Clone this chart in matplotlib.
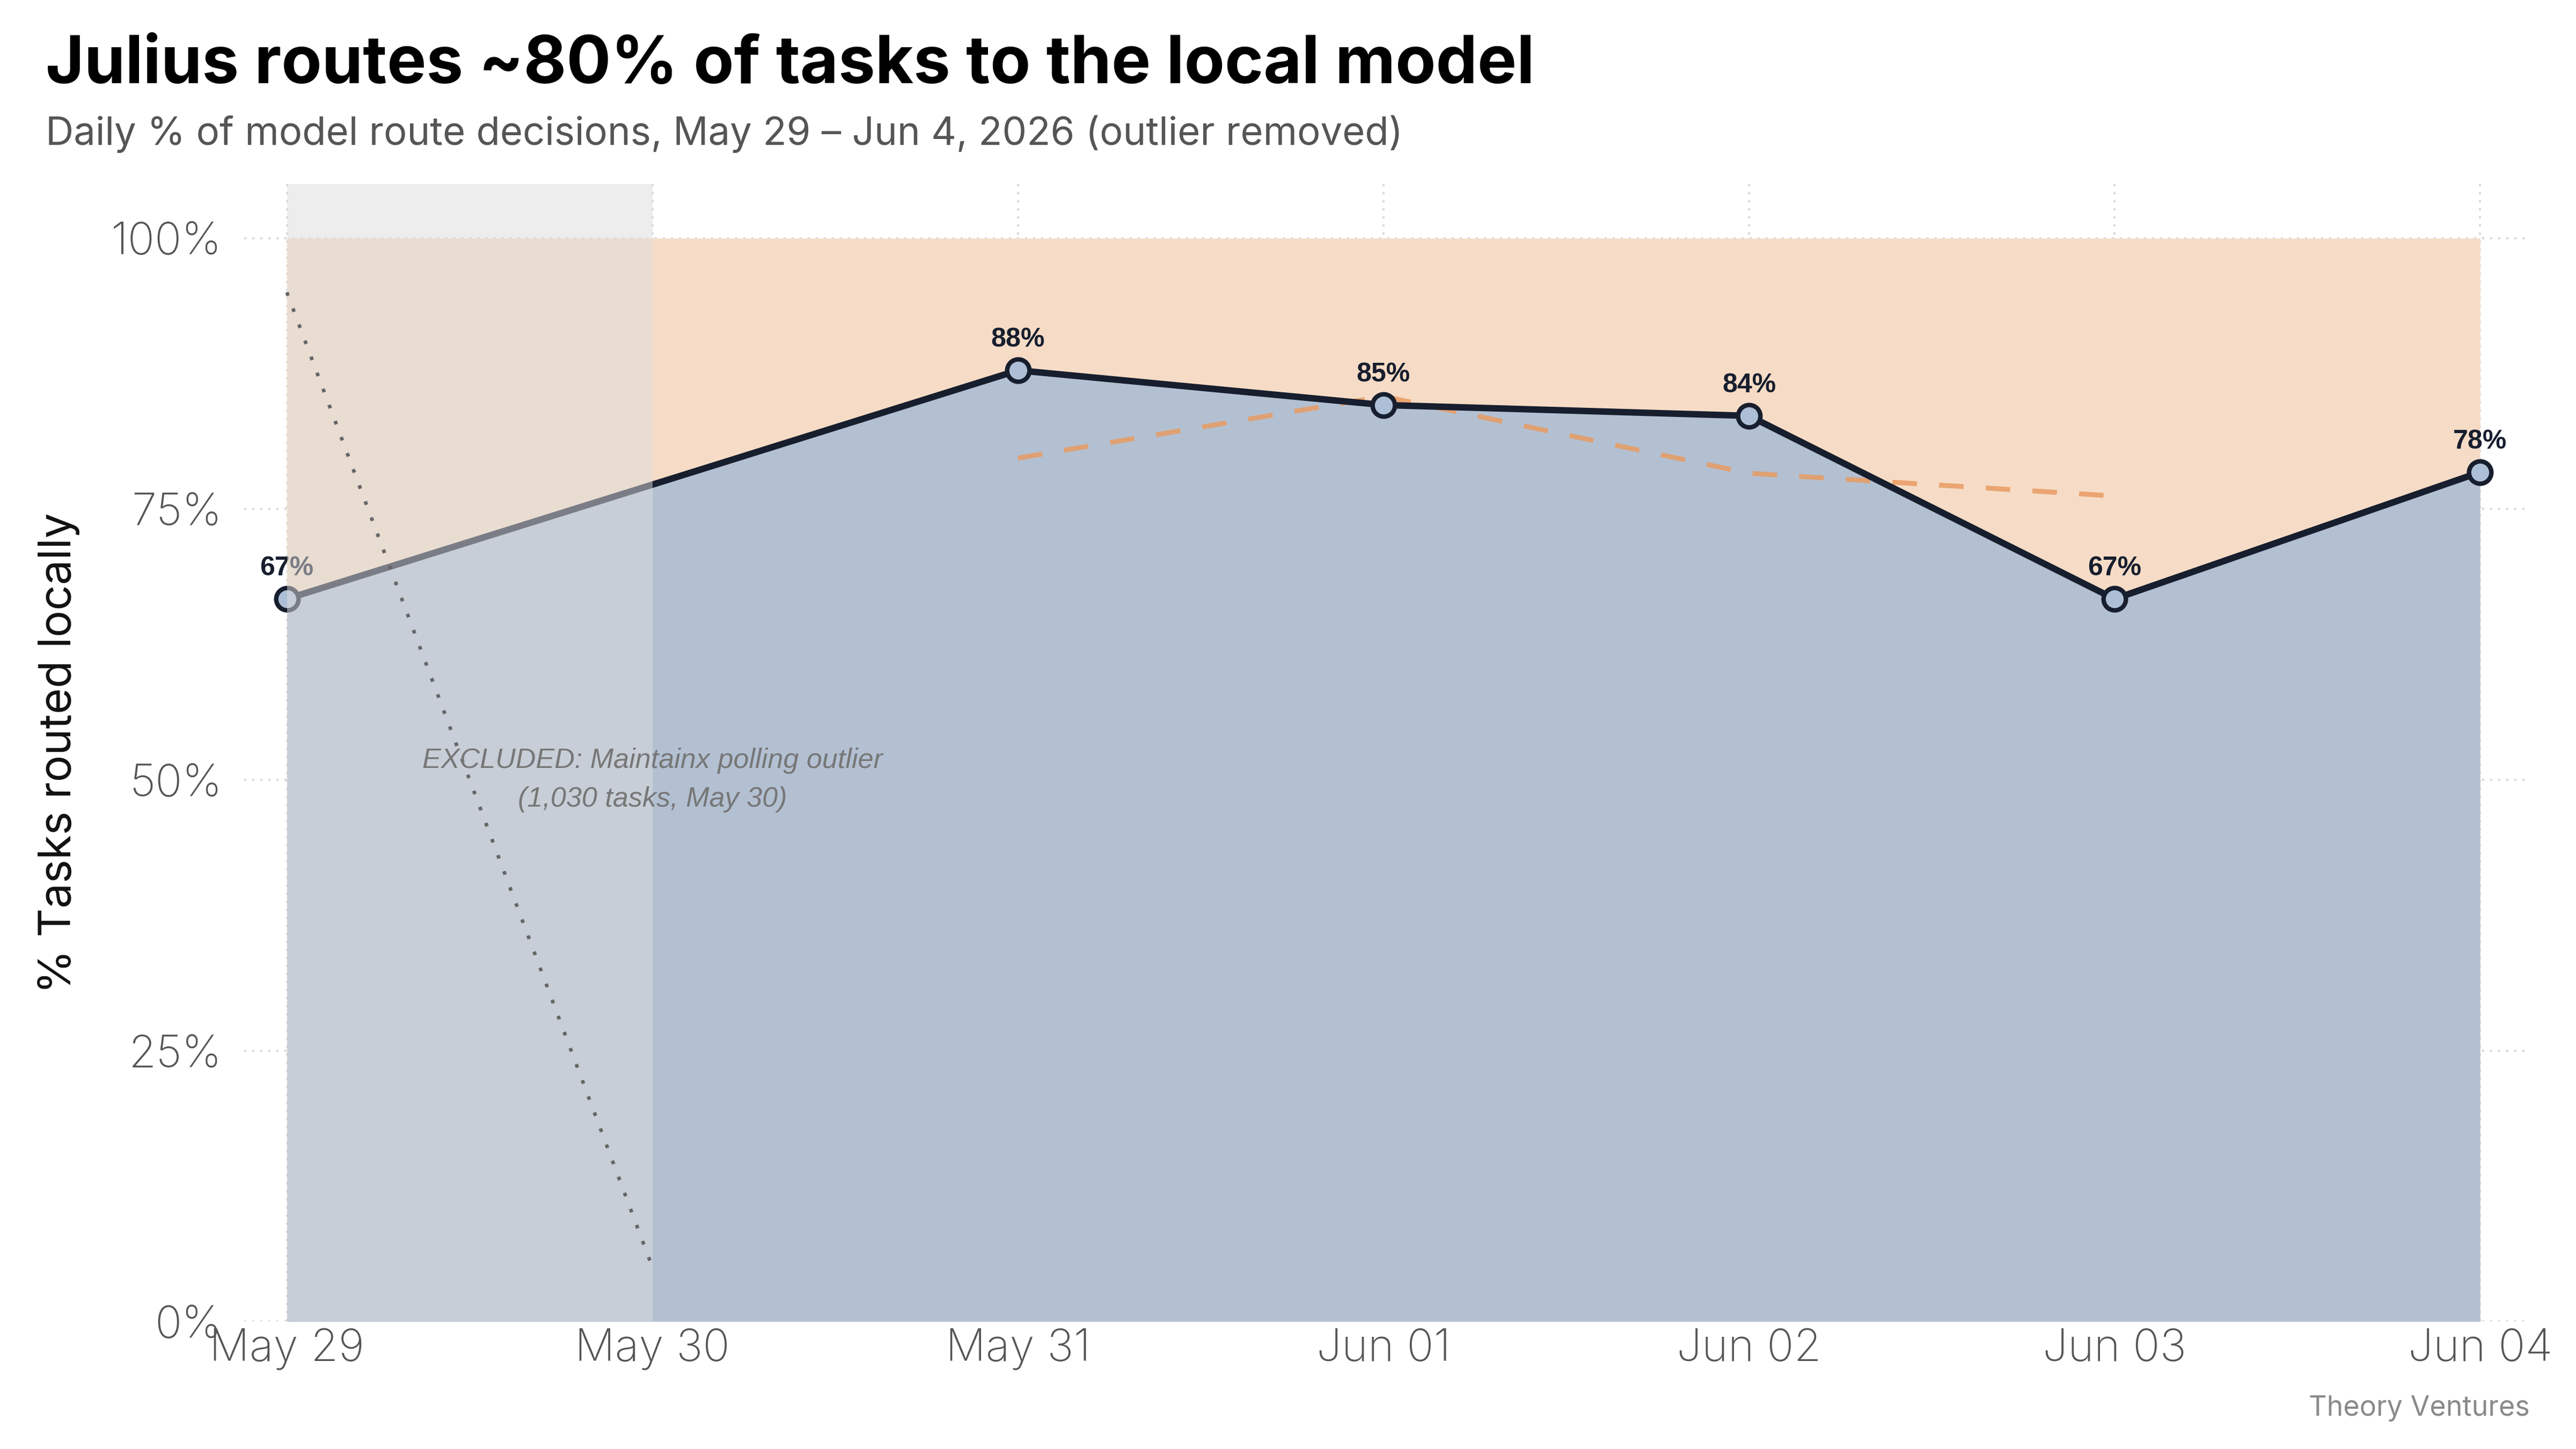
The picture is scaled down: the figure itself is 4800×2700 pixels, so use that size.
import matplotlib
matplotlib.use('Agg')
import matplotlib.pyplot as plt
import matplotlib.dates as mdates
from datetime import datetime, timedelta

# Daily share of tasks routed to the local model (May 30 outlier removed)
dates = ['2026-05-29', '2026-05-31', '2026-06-01', '2026-06-02', '2026-06-03', '2026-06-04']
pct_local = [66.7, 87.8, 84.6, 83.6, 66.7, 78.4]
point_labels = ['67%', '88%', '85%', '84%', '67%', '78%']

# Dashed trend line
trend_dates = ['2026-05-31', '2026-06-01', '2026-06-02', '2026-06-03']
trend_pct = [79.7, 85.4, 78.3, 76.2]

# Raw series through the excluded outlier day
outlier_dates = ['2026-05-29', '2026-05-30']
outlier_pct = [95.0, 5.0]

excluded_start = '2026-05-29'
excluded_end = '2026-05-30'

y_ticks = [0, 25, 50, 75, 100]
y_tick_labels = ['0%', '25%', '50%', '75%', '100%']

title = 'Julius routes ~80% of tasks to the local model'
subtitle = 'Daily % of model route decisions, May 29 \u2013 Jun 4, 2026 (outlier removed)'

navy = '#171e2e'
blue_fill = '#b3c0d2'
orange_fill = '#f6dcc6'
orange_line = '#e89c62'

x = [datetime.strptime(d, '%Y-%m-%d') for d in dates]
xt = [datetime.strptime(d, '%Y-%m-%d') for d in trend_dates]
xo = [datetime.strptime(d, '%Y-%m-%d') for d in outlier_dates]
x0 = datetime.strptime(excluded_start, '%Y-%m-%d')
x1 = datetime.strptime(excluded_end, '%Y-%m-%d')

fig = plt.figure(figsize=(16, 9), dpi=300)
ax = fig.add_axes([0.0948, 0.088, 0.886, 0.785])

# Areas: local share below the line, the rest up to 100%
ax.fill_between(x, 0, pct_local, color=blue_fill, linewidth=0, zorder=1)
ax.fill_between(x, pct_local, 100, color=orange_fill, linewidth=0, zorder=1)

ax.plot(xt, trend_pct, color=orange_line, linestyle=(0, (5, 4.5)), linewidth=2.2, alpha=0.85, zorder=3)
ax.plot(x, pct_local, color=navy, linewidth=2.9, zorder=4,
        marker='o', markersize=10, markerfacecolor='#adbfd6', markeredgecolor=navy, markeredgewidth=2)

for xi, yi, lab in zip(x, pct_local, point_labels):
    ax.annotate(lab, (xi, yi), xytext=(0, 10.5), textcoords='offset points', ha='center', va='baseline',
                fontsize=12, fontweight='bold', color=navy, family='Liberation Sans', zorder=5)

# Excluded day overlay
ax.axvspan(x0, x1, ymin=0, ymax=1, color='#dddddd', alpha=0.5, linewidth=0, zorder=6)
ax.plot(xo, outlier_pct, color='#666666', linestyle=(0, (1, 3.8)), linewidth=1.6, zorder=7)
ax.text(x1, 50, 'EXCLUDED: Maintainx polling outlier\n(1,030 tasks, May 30)', ha='center', va='center',
        fontsize=12.5, style='italic', color='#777777', family='Liberation Sans', linespacing=1.6, zorder=8)

ax.set_xlim(x[0] - timedelta(hours=2.8), x[-1] + timedelta(hours=3.05))
ax.set_ylim(0, 105)
ax.set_yticks(y_ticks)
ax.set_yticklabels(y_tick_labels)
ax.xaxis.set_major_locator(mdates.DayLocator())
ax.xaxis.set_major_formatter(mdates.DateFormatter('%b %d'))

ax.grid(True, color='#d4d4d4', linestyle=(0, (1, 3)), linewidth=0.9, zorder=0)
ax.set_axisbelow(True)
for s in ax.spines.values():
    s.set_visible(False)
ax.tick_params(length=0, labelsize=20, labelcolor='#555555', pad=3)
ax.tick_params(axis='y', pad=10)
for lab in ax.get_xticklabels() + ax.get_yticklabels():
    lab.set_family('Inter')
    lab.set_fontweight('light')

ax.set_ylabel('% Tasks routed locally', fontsize=20, color='#111111', family='Inter', labelpad=14)

fig.text(0.0177, 0.9426, title, fontsize=29.5, fontweight='bold', family='Inter', color='#000000')
fig.text(0.0177, 0.900, subtitle, fontsize=17.4, family='Inter', color='#555555')
fig.text(0.982, 0.023, 'Theory Ventures', fontsize=12.5, family='Inter', color='#8a8a8a', ha='right')

fig.savefig('out.png', dpi=300)
